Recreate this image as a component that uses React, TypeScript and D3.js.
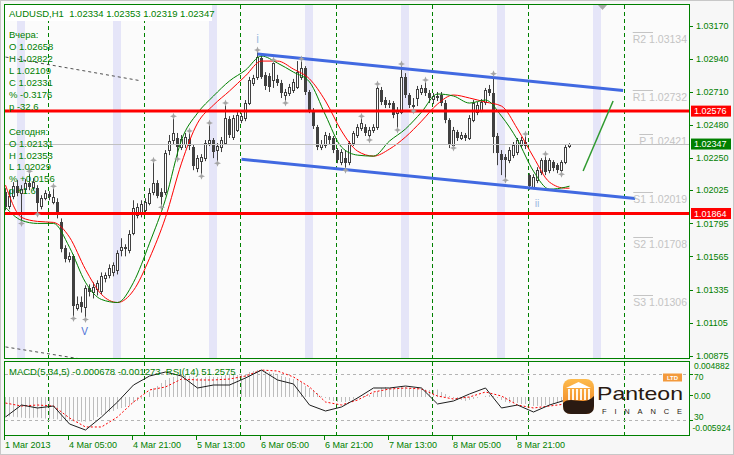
import React, { useEffect, useRef } from 'react';
import * as d3 from 'd3';

// ---------- candles (AUDUSD H1, bar 0 = 1 Mar 13:00) ----------
const opens = [
  1.02012, 1.01914, 1.01984, 1.02054, 1.02005, 1.02033, 1.02075, 1.02047, 1.02040, 1.01914,
  1.01970, 1.01998, 1.01942, 1.01942, 1.01802, 1.01622, 1.01545, 1.01566, 1.01210, 1.01245,
  1.01210, 1.01343, 1.01315, 1.01336, 1.01322, 1.01413, 1.01434, 1.01454, 1.01468, 1.01608,
  1.01629, 1.01608, 1.01727, 1.01851, 1.01858, 1.01886, 1.01935, 1.02012, 1.02075, 1.02012,
  1.02012, 1.02305, 1.02375, 1.02389, 1.02326, 1.02347, 1.02382, 1.02326, 1.02179, 1.02228,
  1.02249, 1.02354, 1.02375, 1.02305, 1.02326, 1.02354, 1.02520, 1.02396, 1.02445, 1.02513,
  1.02527, 1.02632, 1.02772, 1.02814, 1.02945, 1.02828, 1.02821, 1.02793, 1.02800, 1.02772,
  1.02688, 1.02702, 1.02723, 1.02744, 1.02814, 1.02875, 1.02709, 1.02583, 1.02466, 1.02326,
  1.02340, 1.02403, 1.02389, 1.02305, 1.02221, 1.02249, 1.02221, 1.02354, 1.02410, 1.02459,
  1.02466, 1.02410, 1.02445, 1.02466, 1.02723, 1.02653, 1.02632, 1.02632, 1.02562, 1.02569,
  1.02814, 1.02688, 1.02618, 1.02667, 1.02709, 1.02737, 1.02702, 1.02658, 1.02681, 1.02688,
  1.02632, 1.02513, 1.02340, 1.02431, 1.02389, 1.02410, 1.02389, 1.02513, 1.02569, 1.02583,
  1.02639, 1.02730, 1.02702, 1.02403, 1.02277, 1.02256, 1.02235, 1.02270, 1.02291, 1.02340,
  1.02361, 1.02131, 1.02047, 1.02096, 1.02151, 1.02235, 1.02165, 1.02221, 1.02200, 1.02165,
  1.02221, 1.02334,
];
const highs = [
  1.02040, 1.02026, 1.02082, 1.02096, 1.02061, 1.02103, 1.02144, 1.02110, 1.02061, 1.01991,
  1.02026, 1.02019, 1.02040, 1.01970, 1.01830, 1.01643, 1.01594, 1.01580, 1.01287, 1.01287,
  1.01364, 1.01371, 1.01385, 1.01399, 1.01454, 1.01454, 1.01510, 1.01524, 1.01608, 1.01692,
  1.01650, 1.01748, 1.01956, 1.01935, 1.01956, 1.01970, 1.02040, 1.02221, 1.02096, 1.02040,
  1.02305, 1.02410, 1.02527, 1.02424, 1.02410, 1.02424, 1.02424, 1.02340, 1.02270, 1.02277,
  1.02375, 1.02480, 1.02389, 1.02354, 1.02396, 1.02618, 1.02541, 1.02548, 1.02569, 1.02562,
  1.02653, 1.02814, 1.02828, 1.02987, 1.02966, 1.02847, 1.02840, 1.02917, 1.02828, 1.02793,
  1.02730, 1.02765, 1.02800, 1.02924, 1.02924, 1.02889, 1.02723, 1.02597, 1.02480, 1.02375,
  1.02431, 1.02424, 1.02403, 1.02319, 1.02312, 1.02305, 1.02368, 1.02438, 1.02485, 1.02527,
  1.02485, 1.02466, 1.02485, 1.02751, 1.02744, 1.02674, 1.02653, 1.02646, 1.02604, 1.02889,
  1.02840, 1.02702, 1.02667, 1.02751, 1.02758, 1.02779, 1.02723, 1.02702, 1.02709, 1.02709,
  1.02653, 1.02527, 1.02466, 1.02445, 1.02431, 1.02424, 1.02548, 1.02653, 1.02639, 1.02660,
  1.02737, 1.02758, 1.02822, 1.02424, 1.02305, 1.02277, 1.02326, 1.02361, 1.02389, 1.02396,
  1.02403, 1.02144, 1.02137, 1.02186, 1.02249, 1.02263, 1.02249, 1.02235, 1.02214, 1.02235,
  1.02340, 1.02353,
];
const lows = [
  1.01886, 1.01893, 1.01963, 1.01984, 1.01809, 1.02005, 1.02026, 1.02026, 1.01872, 1.01893,
  1.01956, 1.01956, 1.01928, 1.01830, 1.01594, 1.01524, 1.01524, 1.01147, 1.01189, 1.01175,
  1.01140, 1.01287, 1.01273, 1.01294, 1.01301, 1.01385, 1.01413, 1.01427, 1.01440, 1.01566,
  1.01566, 1.01587, 1.01713, 1.01830, 1.01837, 1.01872, 1.01921, 1.01991, 1.01970, 1.01921,
  1.01991, 1.02270, 1.02340, 1.02256, 1.02305, 1.02319, 1.02305, 1.02165, 1.02151, 1.02137,
  1.02228, 1.02333, 1.02249, 1.02228, 1.02291, 1.02340, 1.02389, 1.02375, 1.02431, 1.02492,
  1.02506, 1.02618, 1.02751, 1.02793, 1.02800, 1.02723, 1.02709, 1.02737, 1.02751, 1.02667,
  1.02646, 1.02681, 1.02702, 1.02730, 1.02793, 1.02688, 1.02562, 1.02452, 1.02305, 1.02305,
  1.02319, 1.02347, 1.02284, 1.02214, 1.02200, 1.02179, 1.02200, 1.02333, 1.02389, 1.02438,
  1.02403, 1.02389, 1.02424, 1.02445, 1.02618, 1.02597, 1.02597, 1.02527, 1.02459, 1.02555,
  1.02667, 1.02597, 1.02590, 1.02611, 1.02688, 1.02681, 1.02632, 1.02625, 1.02646, 1.02611,
  1.02492, 1.02319, 1.02333, 1.02368, 1.02375, 1.02368, 1.02375, 1.02499, 1.02548, 1.02569,
  1.02618, 1.02681, 1.02284, 1.02200, 1.02131, 1.02109, 1.02214, 1.02249, 1.02270, 1.02319,
  1.02312, 1.02029, 1.02033, 1.02075, 1.02131, 1.02131, 1.02144, 1.02158, 1.02144, 1.02151,
  1.02207, 1.02319,
];
const closes = [
  1.01907, 1.01984, 1.02054, 1.02005, 1.02033, 1.02075, 1.02047, 1.02082, 1.01935, 1.01970,
  1.02005, 1.01977, 1.01977, 1.01851, 1.01615, 1.01545, 1.01566, 1.01217, 1.01238, 1.01210,
  1.01343, 1.01315, 1.01350, 1.01378, 1.01427, 1.01434, 1.01482, 1.01503, 1.01587, 1.01629,
  1.01615, 1.01720, 1.01900, 1.01907, 1.01928, 1.01942, 1.02005, 1.02075, 1.01984, 1.01977,
  1.02284, 1.02368, 1.02424, 1.02326, 1.02382, 1.02396, 1.02333, 1.02193, 1.02249, 1.02256,
  1.02354, 1.02375, 1.02291, 1.02333, 1.02375, 1.02527, 1.02410, 1.02527, 1.02548, 1.02541,
  1.02632, 1.02793, 1.02807, 1.02952, 1.02814, 1.02751, 1.02744, 1.02910, 1.02772, 1.02702,
  1.02709, 1.02744, 1.02779, 1.02847, 1.02875, 1.02709, 1.02583, 1.02473, 1.02326, 1.02347,
  1.02410, 1.02375, 1.02305, 1.02235, 1.02291, 1.02214, 1.02354, 1.02424, 1.02466, 1.02492,
  1.02424, 1.02445, 1.02466, 1.02737, 1.02639, 1.02618, 1.02618, 1.02548, 1.02583, 1.02814,
  1.02688, 1.02618, 1.02604, 1.02730, 1.02737, 1.02702, 1.02667, 1.02681, 1.02667, 1.02632,
  1.02513, 1.02340, 1.02445, 1.02389, 1.02410, 1.02389, 1.02527, 1.02632, 1.02618, 1.02639,
  1.02723, 1.02702, 1.02396, 1.02284, 1.02235, 1.02235, 1.02305, 1.02340, 1.02375, 1.02375,
  1.02331, 1.02054, 1.02117, 1.02165, 1.02235, 1.02151, 1.02235, 1.02179, 1.02165, 1.02221,
  1.02326, 1.02347,
];

// ---------- indicator lines, read at every 4th bar ----------
const lineBars = [0, 4, 8, 12, 16, 20, 24, 28, 32, 36, 40, 44, 48, 52, 56, 60, 64, 68, 72, 76,
  80, 84, 88, 92, 96, 100, 104, 108, 112, 116, 120, 124, 128, 132, 136, 140, 141];
const greenMA = [1.01907, 1.01816, 1.01795, 1.01795, 1.01629, 1.01385, 1.01266, 1.01245, 1.01385, 1.01657,
  1.01963, 1.02375, 1.02562, 1.02681, 1.02786, 1.02861, 1.02959, 1.02910, 1.02847, 1.02779,
  1.02548, 1.02326, 1.02270, 1.02263, 1.02368, 1.02452, 1.02569, 1.02695, 1.02681, 1.02632,
  1.02653, 1.02541, 1.02375, 1.02158, 1.02033, 1.02047, 1.02054];
const redMA = [1.02061, 1.01837, 1.01809, 1.01802, 1.01699, 1.01475, 1.01301, 1.01245, 1.01329, 1.01552,
  1.01837, 1.02214, 1.02492, 1.02618, 1.02716, 1.02821, 1.02924, 1.02924, 1.02868, 1.02800,
  1.02646, 1.02438, 1.02298, 1.02263, 1.02312, 1.02396, 1.02506, 1.02625, 1.02688, 1.02667,
  1.02639, 1.02611, 1.02452, 1.02256, 1.02082, 1.02040, 1.02040];
const macdMain = [-0.00320, -0.00144, -0.00188, -0.00159, -0.00423, -0.00512, -0.00320, -0.00100, 0.00150, 0.00282,
  0.00341, 0.00282, 0.00106, 0.00150, 0.00150, 0.00253, 0.00370, 0.00224, 0.00165, -0.00144,
  -0.00232, -0.00173, -0.00041, 0.00106, 0.00106, 0.00135, 0.00106, -0.00129, -0.00085, 0.00018,
  0.00106, -0.00188, -0.00144, -0.00247, -0.00144, -0.00071, -0.000678];
const macdSignal = [-0.00115, -0.00159, -0.00144, -0.00159, -0.00335, -0.00467, -0.00467, -0.00320, -0.00100, 0.00077,
  0.00121, 0.00238, 0.00224, 0.00224, 0.00238, 0.00282, 0.00370, 0.00356, 0.00268, 0.00121,
  -0.00100, -0.00144, -0.00071, 0.00047, 0.00091, 0.00106, 0.00091, -0.00012, -0.00056, -0.00026,
  0.00047, -0.00012, -0.00144, -0.00188, -0.00159, -0.00129, -0.001273];

// RSI(14) histogram, one value per bar
const rsiValues = [
  32.6, 33.0, 32.8, 32.4, 32.0, 31.7, 31.5, 31.9, 32.2, 31.6,
  31.2, 31.0, 30.8, 30.5, 30.0, 29.6, 29.2, 28.9, 28.7, 28.5,
  28.6, 28.9, 29.8, 32.6, 34.3, 36.1, 37.0, 37.8, 39.6, 40.4,
  41.3, 43.0, 44.8, 46.5, 48.3, 50.0, 54.3, 57.8, 59.6, 62.2,
  64.8, 66.5, 67.4, 68.3, 68.7, 69.1, 68.3, 67.4, 66.5, 66.5,
  67.4, 68.3, 67.4, 67.4, 68.3, 69.1, 69.1, 69.1, 69.1, 70.0,
  70.0, 71.7, 72.6, 73.5, 73.5, 72.6, 71.7, 70.9, 69.1, 68.3,
  67.4, 66.5, 65.7, 64.8, 63.0, 59.6, 57.8, 56.1, 53.5, 50.9,
  49.1, 47.4, 46.5, 45.7, 45.7, 45.7, 46.5, 48.3, 49.1, 50.0,
  50.9, 51.7, 53.5, 55.2, 57.8, 58.7, 57.8, 57.0, 57.8, 58.7,
  58.7, 57.8, 57.0, 57.8, 57.0, 56.5, 56.1, 56.1, 56.5, 54.3,
  52.6, 50.9, 49.1, 47.4, 47.4, 46.5, 47.4, 48.3, 49.1, 50.0,
  50.9, 51.7, 50.9, 49.1, 47.4, 45.7, 44.8, 44.8, 44.8, 43.9,
  43.9, 43.0, 42.2, 42.2, 42.2, 43.0, 43.0, 43.9, 44.8, 46.5,
  48.3, 51.26,
];

const fractalUpBars = [6, 12, 37, 42, 46, 51, 55, 63, 67, 74, 89, 93, 99, 105, 122, 130, 135];
const fractalDownBars = [4, 8, 17, 20, 39, 43, 49, 53, 70, 85, 91, 98, 102, 112, 125, 139];

// ---------- axes / objects ----------
const priceTicks = [1.03170, 1.02940, 1.02710, 1.02480, 1.02250, 1.02025, 1.01795, 1.01565, 1.01335, 1.01105, 1.00875];
const timeLabelBars = [0, 16, 32, 48, 64, 80, 96, 112, 128];
const timeLabels = ['1 Mar 2013', '4 Mar 05:00', '4 Mar 21:00', '5 Mar 13:00', '6 Mar 05:00',
  '6 Mar 21:00', '7 Mar 13:00', '8 Mar 05:00', '8 Mar 21:00'];
const daySeparatorBars = [11, 35, 59, 83, 107, 131, 155];
const sessionBandBars = [3, 27, 51, 75, 99, 123, 147];

const redLevels = [1.02576, 1.01864];
const bidPrice = 1.02347;
const pivotNames = ['R2', 'R1', 'P', 'S1', 'S2', 'S3'];
const pivotValues = [1.03134, 1.02732, 1.02421, 1.02019, 1.01708, 1.01306];

const channelUpper: [number, number][] = [[63, 1.02973], [154.4, 1.02719]];
const channelLower: [number, number][] = [[59, 1.02241], [157.4, 1.01968]];
const oldChannelTop: [number, number][] = [[0, 1.02952], [33.6, 1.02788]];
const oldChannelBottom: [number, number][] = [[0, 1.00936], [23.6, 1.00831]];
const drawnLine: [number, number][] = [[144.4, 1.02160], [151.9, 1.02646]];

const waveLabels = [
  { text: 'i', bar: 63, price: 1.03078, color: '#9fbbe2', size: 12 },
  { text: 'V', bar: 19.8, price: 1.01040, color: '#4a6fd6', size: 10 },
  { text: 'ii', bar: 132.9, price: 1.01937, color: '#9fbbe2', size: 11 },
];

const header = 'AUDUSD,H1  1.02334 1.02353 1.02319 1.02347';
const yesterdayLines = ['Вчера:', 'O 1.02658', 'H 1.02822', 'L 1.02109', 'C 1.02331', '% -0.3176', 'p -32.6'];
const todayLines = ['Сегодня:', 'O 1.02131', 'H 1.02353', 'L 1.02029', '% +0.0156', 'p +1.6'];
const macdTitle = 'MACD(5,34,5) -0.000678 -0.001273  RSI(14) 51.2575';

const FONT = '"Liberation Sans", Arial, Helvetica, sans-serif';
const GREEN = '#008000';
const CANDLE = '#404040';

const App: React.FC = () => {
  const svgRef = useRef<SVGSVGElement>(null);

  useEffect(() => {
    if (!svgRef.current) return;
    const svg = d3.select(svgRef.current);
    svg.selectAll('*').remove();
    svg.style('font-family', FONT);

    const W = 734, H = 455;
    const main = { left: 5, right: 689, top: 5, bottom: 358 };
    const sub = { top: 362, bottom: 435 };

    const x = d3.scaleLinear().domain([0, 171]).range([5.5, 689.5]);
    const y = d3.scaleLinear().domain([1.00875, 1.03170]).range([355.7, 25.7]);
    const macdY = d3.scaleLinear().domain([-0.005924, 0.004882]).range([435.5, 362]);
    const rsiY = d3.scaleLinear().domain([30, 70]).range([420, 374]);

    const defs = svg.append('defs');
    defs.append('clipPath').attr('id', 'clipMain').append('rect')
      .attr('x', main.left).attr('y', main.top).attr('width', main.right - main.left).attr('height', main.bottom - main.top);
    defs.append('clipPath').attr('id', 'clipSub').append('rect')
      .attr('x', main.left).attr('y', sub.top).attr('width', main.right - main.left).attr('height', sub.bottom - sub.top);
    const grad = defs.append('linearGradient').attr('id', 'logoGrad')
      .attr('x1', 0).attr('y1', 0).attr('x2', 0).attr('y2', 1);
    grad.append('stop').attr('offset', '0%').attr('stop-color', '#fdbb4c');
    grad.append('stop').attr('offset', '100%').attr('stop-color', '#ee7b1b');

    // background
    svg.append('rect').attr('width', W).attr('height', H).attr('fill', '#f7f7f7');
    svg.append('rect').attr('x', main.left).attr('y', main.top)
      .attr('width', main.right - main.left).attr('height', main.bottom - main.top).attr('fill', '#fbfbfb');
    svg.append('rect').attr('x', main.left).attr('y', sub.top)
      .attr('width', main.right - main.left).attr('height', sub.bottom - sub.top).attr('fill', '#fbfbfb');

    const g = svg.append('g').attr('clip-path', 'url(#clipMain)');
    const gs = svg.append('g').attr('clip-path', 'url(#clipSub)');

    // session bands
    g.selectAll('.band').data(sessionBandBars).enter().append('rect')
      .attr('x', d => Math.floor(x(d))).attr('y', main.top)
      .attr('width', 8).attr('height', main.bottom - main.top)
      .attr('fill', '#e5e5f8');

    // day separators
    [g, gs].forEach((layer, k) => {
      layer.selectAll('.sep').data(daySeparatorBars).enter().append('line')
        .attr('x1', d => Math.floor(x(d)) - 0.5).attr('x2', d => Math.floor(x(d)) - 0.5)
        .attr('y1', k === 0 ? main.top : sub.top).attr('y2', k === 0 ? main.bottom : sub.bottom)
        .attr('stroke', GREEN).attr('stroke-width', 1).attr('stroke-dasharray', '4,3');
    });

    // pivot labels
    pivotNames.forEach((name, i) => {
      const base = y(pivotValues[i]) + 12;
      const t = svg.append('text').attr('x', 687).attr('y', base)
        .attr('text-anchor', 'end').attr('font-size', 10.5).attr('fill', '#c4c4c4')
        .text(`${name} ${pivotValues[i].toFixed(5)}`);
      const bb = (t.node() as SVGTextElement).getBBox();
      svg.append('line').attr('x1', bb.x).attr('x2', 653).attr('y1', Math.round(base - 11) + 0.5).attr('y2', Math.round(base - 11) + 0.5)
        .attr('stroke', '#c4c4c4').attr('stroke-width', 1);
    });

    // candles
    const idx = d3.range(closes.length);
    g.selectAll('.wick').data(idx).enter().append('line')
      .attr('x1', i => x(i)).attr('x2', i => x(i))
      .attr('y1', i => y(highs[i])).attr('y2', i => y(lows[i]))
      .attr('stroke', CANDLE).attr('stroke-width', 1);
    g.selectAll('.body').data(idx).enter().append('rect')
      .attr('x', i => (closes[i] >= opens[i] ? x(i) - 1 : x(i) - 1.5))
      .attr('width', i => (closes[i] >= opens[i] ? 2 : 3))
      .attr('y', i => Math.round(y(Math.max(opens[i], closes[i]))) + (closes[i] >= opens[i] ? 0.5 : 0))
      .attr('height', i => Math.max(1, Math.round(Math.abs(y(opens[i]) - y(closes[i])))))
      .attr('fill', i => (closes[i] >= opens[i] ? '#ffffff' : CANDLE))
      .attr('stroke', i => (closes[i] >= opens[i] ? CANDLE : 'none'))
      .attr('stroke-width', 1);

    // moving averages
    const maLine = (vals: number[]) => d3.line<number>()
      .x((_, k) => x(lineBars[k])).y(v => y(v)).curve(d3.curveMonotoneX)(vals);
    g.append('path').attr('d', maLine(redMA)).attr('fill', 'none').attr('stroke', '#ff0000').attr('stroke-width', 1);
    g.append('path').attr('d', maLine(greenMA)).attr('fill', 'none').attr('stroke', GREEN).attr('stroke-width', 1);

    // horizontal levels
    g.append('line').attr('x1', main.left).attr('x2', main.right)
      .attr('y1', Math.round(y(bidPrice)) + 0.5).attr('y2', Math.round(y(bidPrice)) + 0.5)
      .attr('stroke', '#c0c0c0').attr('stroke-width', 1);
    g.selectAll('.lvl').data(redLevels).enter().append('line')
      .attr('x1', main.left).attr('x2', main.right)
      .attr('y1', d => y(d)).attr('y2', d => y(d))
      .attr('stroke', '#ff0000').attr('stroke-width', 3);

    // trend lines
    const seg = (pts: [number, number][]) => d3.line<[number, number]>().x(d => x(d[0])).y(d => y(d[1]))(pts);
    [channelUpper, channelLower].forEach(pts => {
      g.append('path').attr('d', seg(pts)).attr('stroke', '#4169e1').attr('stroke-width', 3).attr('fill', 'none');
    });
    [oldChannelTop, oldChannelBottom].forEach(pts => {
      g.append('path').attr('d', seg(pts)).attr('stroke', '#505050').attr('stroke-width', 1)
        .attr('stroke-dasharray', '3,3').attr('fill', 'none');
    });
    g.append('path').attr('d', seg(drawnLine)).attr('stroke', '#2f9a2f').attr('stroke-width', 1.5).attr('fill', 'none');

    // fractals
    const star = 'M0,-3.5L1,-1L3.5,0L1,1L0,3.5L-1,1L-3.5,0L-1,-1Z';
    g.selectAll('.fu').data(fractalUpBars).enter().append('path')
      .attr('d', star).attr('fill', '#a4a4a4')
      .attr('transform', i => `translate(${x(i)},${y(highs[i]) - 2})`);
    g.selectAll('.fd').data(fractalDownBars).enter().append('path')
      .attr('d', star).attr('fill', '#a4a4a4')
      .attr('transform', i => `translate(${x(i)},${y(lows[i]) + 2})`);

    // wave labels
    waveLabels.forEach(w => {
      g.append('text').attr('x', x(w.bar)).attr('y', y(w.price)).attr('dy', '0.35em')
        .attr('text-anchor', 'middle').attr('font-size', w.size).attr('fill', w.color).text(w.text);
    });

    // chart shift marker
    svg.append('path').attr('d', 'M598,5L607,5L602.5,10Z').attr('fill', '#a8a8a8');

    // header and info text
    svg.append('rect').attr('x', 5).attr('y', 5).attr('width', 207).attr('height', 16).attr('fill', '#ffffff');
    svg.append('text').attr('x', 9).attr('y', 16.7).attr('font-size', 9.5).attr('fill', GREEN).text(header)
      .style('white-space', 'pre');
    yesterdayLines.forEach((t, i) => {
      svg.append('text').attr('x', 9).attr('y', 34.7 + 12 * i + 3.4).attr('font-size', 9.5).attr('fill', GREEN).text(t);
    });
    todayLines.forEach((t, i) => {
      svg.append('text').attr('x', 9).attr('y', 131.7 + 11.7 * i + 3.4).attr('font-size', 9.5).attr('fill', GREEN).text(t);
    });

    // ---------- sub window ----------
    [70, 30].forEach(v => {
      gs.append('line').attr('x1', main.left).attr('x2', main.right)
        .attr('y1', Math.round(rsiY(v)) + 0.5).attr('y2', Math.round(rsiY(v)) + 0.5)
        .attr('stroke', '#b4b4b4').attr('stroke-dasharray', '3,3');
    });
    gs.selectAll('.hist').data(idx).enter().append('line')
      .attr('x1', i => x(i)).attr('x2', i => x(i))
      .attr('y1', rsiY(50)).attr('y2', i => rsiY(rsiValues[i]))
      .attr('stroke', '#bdbdbd').attr('stroke-width', 1);
    const subLine = (vals: number[]) => d3.line<number>().x((_, k) => x(lineBars[k])).y(v => macdY(v))(vals);
    gs.append('path').attr('d', subLine(macdSignal)).attr('fill', 'none')
      .attr('stroke', '#ff0000').attr('stroke-width', 1).attr('stroke-dasharray', '2,2');
    gs.append('path').attr('d', subLine(macdMain)).attr('fill', 'none')
      .attr('stroke', '#1e1e1e').attr('stroke-width', 1);
    svg.append('text').attr('x', 9).attr('y', 375).attr('font-size', 9.5).attr('fill', GREEN).text(macdTitle)
      .style('white-space', 'pre');

    // logo
    const logo = svg.append('g');
    logo.append('rect').attr('x', 563).attr('y', 379).attr('width', 31).attr('height', 35).attr('rx', 8).attr('fill', 'url(#logoGrad)');
    logo.append('path').attr('d', 'M566,388L578.5,382L591,388Z').attr('fill', '#ffffff');
    [568, 572, 576, 580, 584, 588].forEach(cx => {
      logo.append('rect').attr('x', cx).attr('y', 389).attr('width', 2).attr('height', 11).attr('fill', '#ffffff').attr('opacity', 0.9);
    });
    logo.append('path').attr('d', 'M563,403C571,395 584,407 594,396L594,406Q594,414 586,414L571,414Q563,414 563,406Z').attr('fill', '#2a1a12');
    logo.append('text').attr('x', 597).attr('y', 400).attr('font-size', 19).attr('fill', '#2a1a12')
      .attr('textLength', 86).attr('lengthAdjust', 'spacingAndGlyphs').text('Panteon');
    logo.append('text').attr('x', 602).attr('y', 413.5).attr('font-size', 7.5).attr('fill', '#2a1a12')
      .attr('textLength', 80).attr('lengthAdjust', 'spacing').text('FINANCE');
    logo.append('rect').attr('x', 663).attr('y', 373.5).attr('width', 19).attr('height', 8).attr('fill', '#f39a3c');
    logo.append('text').attr('x', 672.5).attr('y', 380).attr('text-anchor', 'middle')
      .attr('font-size', 6).attr('font-weight', 'bold').attr('fill', '#ffffff').text('LTD');

    // panel borders
    svg.append('rect').attr('x', main.left - 0.5).attr('y', main.top - 0.5)
      .attr('width', main.right - main.left + 1).attr('height', main.bottom - main.top + 1)
      .attr('fill', 'none').attr('stroke', GREEN);
    svg.append('rect').attr('x', main.left - 0.5).attr('y', sub.top - 0.5)
      .attr('width', main.right - main.left + 1).attr('height', sub.bottom - sub.top + 1)
      .attr('fill', 'none').attr('stroke', GREEN);

    // price axis
    svg.selectAll('.ptick').data(priceTicks).enter().append('line')
      .attr('x1', main.right + 0.5).attr('x2', main.right + 4)
      .attr('y1', d => Math.round(y(d)) + 0.5).attr('y2', d => Math.round(y(d)) + 0.5)
      .attr('stroke', GREEN);
    svg.selectAll('.plab').data(priceTicks).enter().append('text')
      .attr('x', 696).attr('y', d => y(d)).attr('dy', '0.35em')
      .attr('font-size', 9).attr('fill', GREEN).text(d => d.toFixed(5));

    const tag = (v: number, color: string) => {
      const cy = y(v);
      svg.append('rect').attr('x', 691).attr('y', cy - 5.5).attr('width', 40).attr('height', 11).attr('fill', color);
      svg.append('text').attr('x', 694).attr('y', cy).attr('dy', '0.35em').attr('font-size', 9)
        .attr('fill', '#ffffff').text(v.toFixed(5));
    };
    redLevels.forEach(v => tag(v, '#ff0000'));
    tag(bidPrice, GREEN);

    // sub window axis
    const subLabels = [
      { t: '0.004882', yy: 366.5 }, { t: '70', yy: 377.5 }, { t: '0.00', yy: macdY(0) + 1 },
      { t: '30', yy: 417.5 }, { t: '-0.005924', yy: 428.5 },
    ];
    subLabels.forEach(s => {
      svg.append('text').attr('x', s.t.startsWith('-') ? 692.5 : 694).attr('y', s.yy).attr('dy', '0.35em')
        .attr('font-size', 8.5).attr('fill', GREEN).text(s.t);
    });
    [rsiY(70), macdY(0), rsiY(30)].forEach(v => {
      svg.append('line').attr('x1', main.right + 0.5).attr('x2', main.right + 4)
        .attr('y1', Math.round(v) + 0.5).attr('y2', Math.round(v) + 0.5).attr('stroke', GREEN);
    });

    // time axis
    timeLabelBars.forEach((b, i) => {
      const tx = Math.floor(x(b)) - 0.5;
      svg.append('line').attr('x1', tx).attr('x2', tx).attr('y1', sub.bottom + 1).attr('y2', sub.bottom + 5).attr('stroke', GREEN);
      svg.append('text').attr('x', tx + 0.5).attr('y', 447.5).attr('font-size', 9).attr('fill', GREEN).text(timeLabels[i]);
    });

    svg.append('rect').attr('x', 0.5).attr('y', 0.5).attr('width', W - 1).attr('height', H - 1)
      .attr('fill', 'none').attr('stroke', '#c8c8c8');
  }, []);

  return (
    <svg ref={svgRef} width={734} height={455}
      style={{ position: 'absolute', left: 0, top: 0, display: 'block' }} />
  );
};

export default App;
